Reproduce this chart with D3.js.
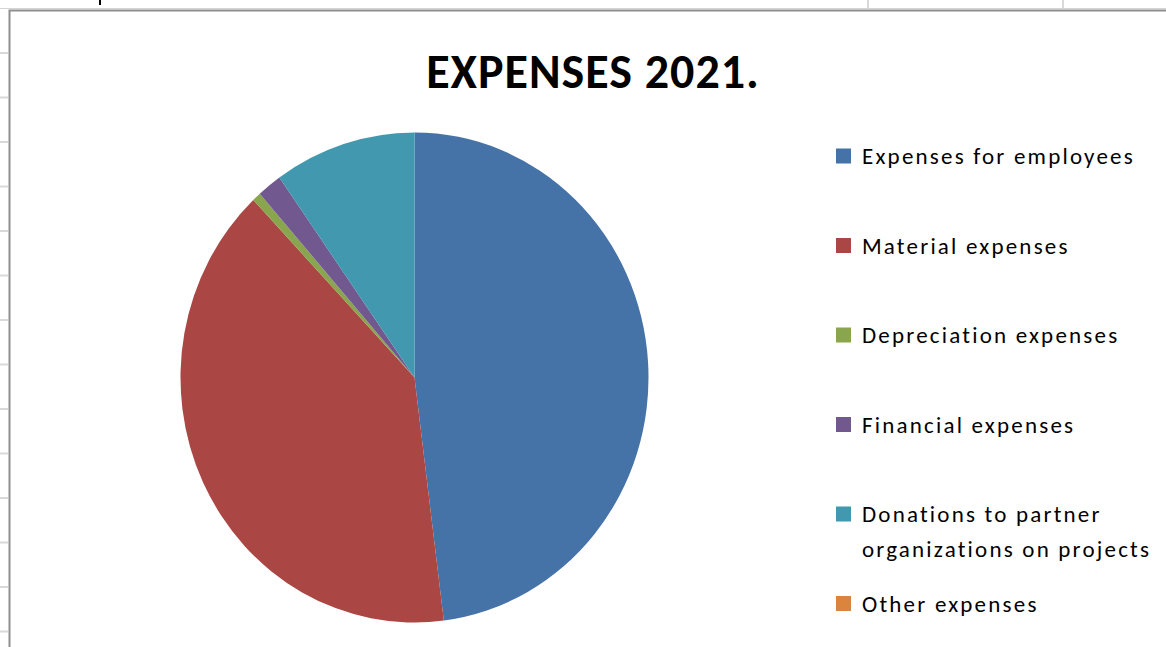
<!DOCTYPE html>
<html>
<head>
<meta charset="utf-8">
<script src="https://cdn.jsdelivr.net/npm/d3@7"></script>
<style>
  html, body { margin: 0; padding: 0; background: #fff; }
  svg { display: block; }
</style>
</head>
<body>
<svg id="chart" width="1166" height="647"></svg>
<script>
// Chart data (shares of total)
var categories = [
    'Expenses for employees',
    'Material expenses',
    'Depreciation expenses',
    'Financial expenses',
    'Donations to partner organizations on projects',
    'Other expenses'
];
var values = [48.0, 39.9, 0.6, 1.7, 9.8, 0.0];
var colors = ['#4572A7', '#AA4643', '#89A54E', '#71588F', '#4198AF', '#DB843D'];
var legendLines = [
    ['Expenses for employees'],
    ['Material expenses'],
    ['Depreciation expenses'],
    ['Financial expenses'],
    ['Donations to partner', 'organizations on projects'],
    ['Other expenses']
];
var title = 'EXPENSES 2021.';

var svg = d3.select('#chart');
var svgWidth = +svg.attr('width');
var svgHeight = +svg.attr('height');

// spreadsheet bits around the chart object
var gridRows = d3.range(53, svgHeight, 44.5);
svg.selectAll('.rowTick')
    .data(gridRows)
    .enter()
    .append('line')
    .attr('x1', 0).attr('x2', 8)
    .attr('y1', d => d).attr('y2', d => d)
    .attr('stroke', '#d9d9d9')
    .attr('stroke-width', 2);

svg.selectAll('.colTick')
    .data([868, 1063])
    .enter()
    .append('line')
    .attr('x1', d => d).attr('x2', d => d)
    .attr('y1', 0).attr('y2', 8)
    .attr('stroke', '#d9d9d9')
    .attr('stroke-width', 2);

svg.append('line')
    .attr('x1', 0).attr('x2', svgWidth)
    .attr('y1', 8.5).attr('y2', 8.5)
    .attr('stroke', '#d4d4d4').attr('stroke-width', 1);

// bit of cell text cut off at the top
svg.append('line')
    .attr('x1', 100).attr('x2', 100)
    .attr('y1', 0).attr('y2', 5)
    .attr('stroke', '#000').attr('stroke-width', 2);

// chart frame (top and left edges visible)
svg.append('path')
    .attr('d', 'M9.5,' + svgHeight + 'V10.5H' + svgWidth)
    .attr('fill', 'none')
    .attr('stroke', '#8e8e8e')
    .attr('stroke-width', 2);

// title
svg.append('text')
    .attr('x', 593)
    .attr('y', 88)
    .attr('text-anchor', 'middle')
    .style('font-family', 'Carlito, Lato, "Open Sans", sans-serif')
    .style('font-weight', 'bold')
    .style('font-size', '48px')
    .style('letter-spacing', '1px')
    .attr('fill', '#000')
    .text(title);

// pie
var cx = 414.5, cy = 377.5, rx = 234, ry = 245;
var pie = d3.pie().sort(null).value(d => d);
var arc = d3.arc().innerRadius(0).outerRadius(ry);

var pieG = svg.append('g')
    .attr('transform', 'translate(' + [cx, cy] + ') scale(' + (rx / ry) + ',1)');

pieG.selectAll('path')
    .data(pie(values))
    .enter()
    .append('path')
    .attr('d', arc)
    .attr('fill', (d, i) => colors[i]);

// legend
var legendX = 836;
var legendTop = 156;
var rowStep = 89.5;
var lineStep = 35;

var legendG = svg.append('g');
var yPos = legendTop;
legendLines.forEach(function(lines, i) {
    var item = legendG.append('g')
        .attr('transform', 'translate(' + [legendX, yPos] + ')');
    item.append('rect')
        .attr('x', 0).attr('y', -7.5)
        .attr('width', 15).attr('height', 15)
        .attr('fill', colors[i]);
    item.selectAll('text')
        .data(lines)
        .enter()
        .append('text')
        .attr('x', 26)
        .attr('y', (d, j) => 8 + j * lineStep)
        .style('font-family', 'Carlito, Lato, "Open Sans", sans-serif')
        .style('font-size', '23px')
        .style('letter-spacing', '2.2px')
        .attr('fill', '#000')
        .text(d => d);
    yPos += rowStep;
});
</script>
</body>
</html>
